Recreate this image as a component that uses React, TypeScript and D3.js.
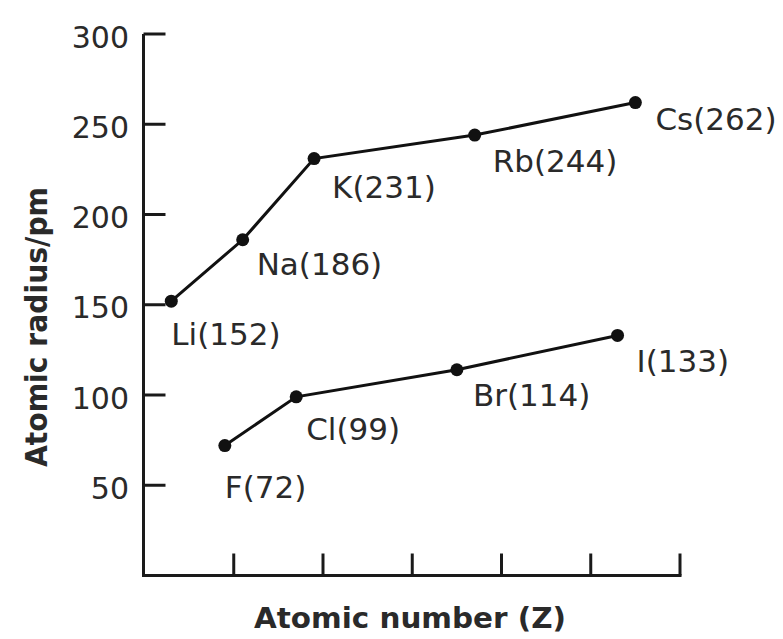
import React from "react";
import * as d3 from "d3";

// ---- data ----
const alkaliNames = ["Li", "Na", "K", "Rb", "Cs"];
const alkaliZ = [3, 11, 19, 37, 55];
const alkaliRadius = [152, 186, 231, 244, 262];

const halogenNames = ["F", "Cl", "Br", "I"];
const halogenZ = [9, 17, 35, 53];
const halogenRadius = [72, 99, 114, 133];

const yTicks = [50, 100, 150, 200, 250, 300];
const xTicks = [10, 20, 30, 40, 50, 60];

const xTitle = "Atomic number (Z)";
const yTitle = "Atomic radius/pm";

// ---- layout (label offsets from their point) ----
const labelOffsets: Record<string, [number, number]> = {
  Li: [0, 44],
  Na: [14, 35],
  K: [18, 39],
  Rb: [18, 37],
  Cs: [20, 27],
  F: [0, 52],
  Cl: [10, 43],
  Br: [16, 36],
  I: [19, 37],
};

const W = 783;
const H = 639;

export default function App() {
  const x = d3.scaleLinear().domain([0, 60]).range([144.5, 680]);
  const y = d3.scaleLinear().domain([0, 300]).range([575.5, 34]);

  const alkali = alkaliNames.map((n, i) => ({ n, z: alkaliZ[i], r: alkaliRadius[i] }));
  const halogen = halogenNames.map((n, i) => ({ n, z: halogenZ[i], r: halogenRadius[i] }));

  const line = d3
    .line<{ z: number; r: number }>()
    .x((d) => x(d.z))
    .y((d) => y(d.r));

  const font = "'DejaVu Sans', Verdana, sans-serif";
  const axisColor = "#1a1a1a";
  const textColor = "#2a2a2a";
  const x0 = 143.5;
  const yAxis = 575.5;

  const series = [alkali, halogen];

  return (
    <svg
      width={W}
      height={H}
      style={{ position: "absolute", left: 0, top: 0, background: "#fff" }}
      fontFamily={font}
    >
      <rect x={0} y={0} width={W} height={H} fill="#fff" />
      {/* y axis */}
      <line x1={x0} y1={y(300)} x2={x0} y2={yAxis + 1.5} stroke={axisColor} strokeWidth={3} />
      {yTicks.map((t) => (
        <g key={"yt" + t}>
          <line x1={x0} x2={x0 + 22} y1={y(t)} y2={y(t)} stroke={axisColor} strokeWidth={3} />
          <text
            x={129}
            y={y(t) + 3}
            textAnchor="end"
            dominantBaseline="central"
            fontSize={30}
            fill={textColor}
          >
            {t}
          </text>
        </g>
      ))}
      {/* x axis */}
      <line x1={x0 - 1.5} y1={yAxis} x2={x(60) + 1.5} y2={yAxis} stroke={axisColor} strokeWidth={3} />
      {xTicks.map((t) => (
        <line
          key={"xt" + t}
          x1={x(t)}
          x2={x(t)}
          y1={yAxis}
          y2={yAxis - 22}
          stroke={axisColor}
          strokeWidth={3}
        />
      ))}
      {/* axis titles */}
      <text
        x={410}
        y={628}
        textAnchor="middle"
        fontSize={28}
        fontWeight="bold"
        fill={textColor}
        textLength={312}
        lengthAdjust="spacingAndGlyphs"
      >
        {xTitle}
      </text>
      <text
        transform={`translate(47, 327) rotate(-90)`}
        textAnchor="middle"
        fontSize={30}
        fontWeight="bold"
        fill={textColor}
        textLength={280}
        lengthAdjust="spacingAndGlyphs"
      >
        {yTitle}
      </text>
      {/* series */}
      {series.map((s, si) => (
        <g key={"s" + si}>
          <path d={line(s) || ""} fill="none" stroke="#111" strokeWidth={3} />
          {s.map((d) => (
            <g key={d.n}>
              <circle cx={x(d.z)} cy={y(d.r)} r={6.5} fill="#111" />
              <text
                x={x(d.z) + labelOffsets[d.n][0]}
                y={y(d.r) + labelOffsets[d.n][1]}
                fontSize={31}
                fill={textColor}
              >
                {`${d.n}(${d.r})`}
              </text>
            </g>
          ))}
        </g>
      ))}
    </svg>
  );
}
